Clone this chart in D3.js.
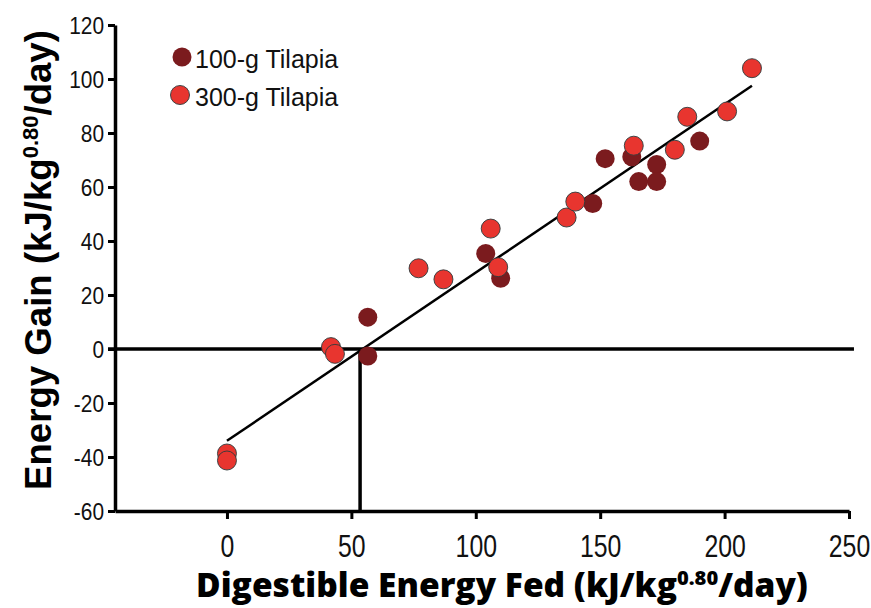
<!DOCTYPE html>
<html>
<head>
<meta charset="utf-8">
<script src="https://cdn.jsdelivr.net/npm/d3@7"></script>
<style>
  body { margin: 0; background: #fff; }
  svg { display: block; }
</style>
</head>
<body>
<div id="chart"></div>
<script>
// data
var x100 = [56.6, 56.6, 104, 110, 147, 152, 162.7, 165.5, 172.7, 172.7, 190];
var y100 = [11.8, -2.6, 35.4, 26.2, 53.9, 70.5, 71.2, 62, 68.3, 62, 77];

var x300 = [0, 0, 41.8, 43.4, 77, 87, 106, 109, 136.5, 140, 163.5, 180, 185, 201, 211];
var y300 = [-38.7, -41.3, 0.7, -1.8, 29.9, 25.8, 44.6, 30.3, 48.7, 54.6, 75.3, 73.8, 86, 88, 104];

// fitted line end points and the x-intercept marker
var fitX = [0, 211];
var fitY = [-34, 97.5];
var interceptX = 53.5;

var xTicks = [0, 50, 100, 150, 200, 250];
var yTicks = [-60, -40, -20, 0, 20, 40, 60, 80, 100, 120];
var seriesNames = ["100-g Tilapia", "300-g Tilapia"];

var W = 871, H = 608;
var DARK = "#7b1b1e", RED = "#e8352f";

var svg = d3.select("#chart").append("svg")
    .attr("width", W)
    .attr("height", H);

var x = d3.scaleLinear().domain([-45, 250]).range([115, 849]);
var y = d3.scaleLinear().domain([-60, 120]).range([511, 25]);

// x axis
var gx = svg.append("g")
    .attr("transform", "translate(0," + y(-60) + ")")
    .call(d3.axisBottom(x).tickValues(xTicks).tickSize(8).tickSizeOuter(0)
      .tickFormat(function(d) { return String(d); }));
gx.select(".domain").attr("stroke", "#000").attr("stroke-width", 3.5);
gx.selectAll(".tick line").attr("stroke", "#000").attr("stroke-width", 3);
gx.selectAll(".tick text")
    .attr("y", 0)
    .attr("dy", 0)
    .attr("transform", "translate(0,46) scale(0.8,1)")
    .style("font-family", "'Liberation Sans', Arial, sans-serif")
    .style("font-size", "31px")
    .attr("fill", "#111");

// y axis
var gy = svg.append("g")
    .attr("transform", "translate(" + x(-45) + ",0)")
    .call(d3.axisLeft(y).tickValues(yTicks).tickSize(7).tickSizeOuter(0)
      .tickFormat(function(d) { return String(d); }));
gy.select(".domain").attr("stroke", "#000").attr("stroke-width", 3.5);
gy.selectAll(".tick line").attr("stroke", "#000").attr("stroke-width", 3);
gy.selectAll(".tick text")
    .attr("x", 0)
    .attr("dy", "0.36em")
    .attr("transform", "translate(-11,0) scale(0.87,1)")
    .style("font-family", "'Liberation Sans', Arial, sans-serif")
    .style("font-size", "24px")
    .attr("fill", "#111");

// zero line and intercept marker
svg.append("line")
    .attr("x1", x(-45) - 7).attr("x2", x(252))
    .attr("y1", y(0)).attr("y2", y(0))
    .attr("stroke", "#000").attr("stroke-width", 3.5);
svg.append("line")
    .attr("x1", x(interceptX)).attr("x2", x(interceptX))
    .attr("y1", y(0)).attr("y2", y(-60))
    .attr("stroke", "#000").attr("stroke-width", 3.5);

// fitted line
svg.append("path")
    .datum(d3.zip(fitX, fitY))
    .attr("fill", "none")
    .attr("stroke", "#000")
    .attr("stroke-width", 2.5)
    .attr("d", d3.line()
        .x(function(d) { return x(d[0]); })
        .y(function(d) { return y(d[1]); }));

// points: 100-g first, 300-g on top
svg.append("g").selectAll("circle")
    .data(d3.zip(x100, y100))
    .join("circle")
    .attr("cx", function(d) { return x(d[0]); })
    .attr("cy", function(d) { return y(d[1]); })
    .attr("r", 9.5)
    .attr("fill", DARK);

svg.append("g").selectAll("circle")
    .data(d3.zip(x300, y300))
    .join("circle")
    .attr("cx", function(d) { return x(d[0]); })
    .attr("cy", function(d) { return y(d[1]); })
    .attr("r", 9.5)
    .attr("fill", RED)
    .attr("stroke", "#2c3b3c")
    .attr("stroke-width", 0.9);

// legend
var legend = svg.append("g");
var legColors = [DARK, RED];
var legY = [57, 95];
var legCx = [182, 180];
seriesNames.forEach(function(name, i) {
  legend.append("circle")
      .attr("cx", legCx[i]).attr("cy", legY[i]).attr("r", 9.5)
      .attr("fill", legColors[i])
      .attr("stroke", i == 1 ? "#2c3b3c" : "none")
      .attr("stroke-width", 0.9);
  legend.append("text")
      .attr("x", 195)
      .attr("y", legY[i] + 11)
      .style("font-family", "'Liberation Sans', Arial, sans-serif")
      .style("font-size", "25px")
      .attr("fill", "#111")
      .text(name);
});

// axis titles with a superscript; sized to the width they take in the picture
function title(el, main, sup, tail, size, width) {
  el.style("font-size", size + "px");
  el.append("tspan").text(main);
  el.append("tspan").attr("dy", -0.36 * size).style("font-size", (0.6 * size) + "px").text(sup);
  el.append("tspan").attr("dy", 0.36 * size).text(tail);
  var w = el.node().getComputedTextLength();
  var s = size * width / w;
  el.style("font-size", s + "px");
  el.selectAll("tspan").remove();
  el.append("tspan").text(main);
  el.append("tspan").attr("dy", -0.36 * s).style("font-size", (0.6 * s) + "px").text(sup);
  el.append("tspan").attr("dy", 0.36 * s).text(tail);
}

var yt = svg.append("text")
    .attr("transform", "translate(51,260) rotate(-90)")
    .attr("text-anchor", "middle")
    .style("font-family", "'Liberation Sans', Arial, sans-serif")
    .style("font-weight", "bold")
    .attr("fill", "#000");
title(yt, "Energy Gain (kJ/kg", "0.80", "/day)", 35, 460);

var xt = svg.append("text")
    .attr("x", 502)
    .attr("y", 597)
    .attr("text-anchor", "middle")
    .style("font-family", "'Open Sans', Lato, sans-serif")
    .style("font-weight", "800")
    .attr("fill", "#000");
title(xt, "Digestible Energy Fed (kJ/kg", "0.80", "/day)", 30, 612);
</script>
</body>
</html>
